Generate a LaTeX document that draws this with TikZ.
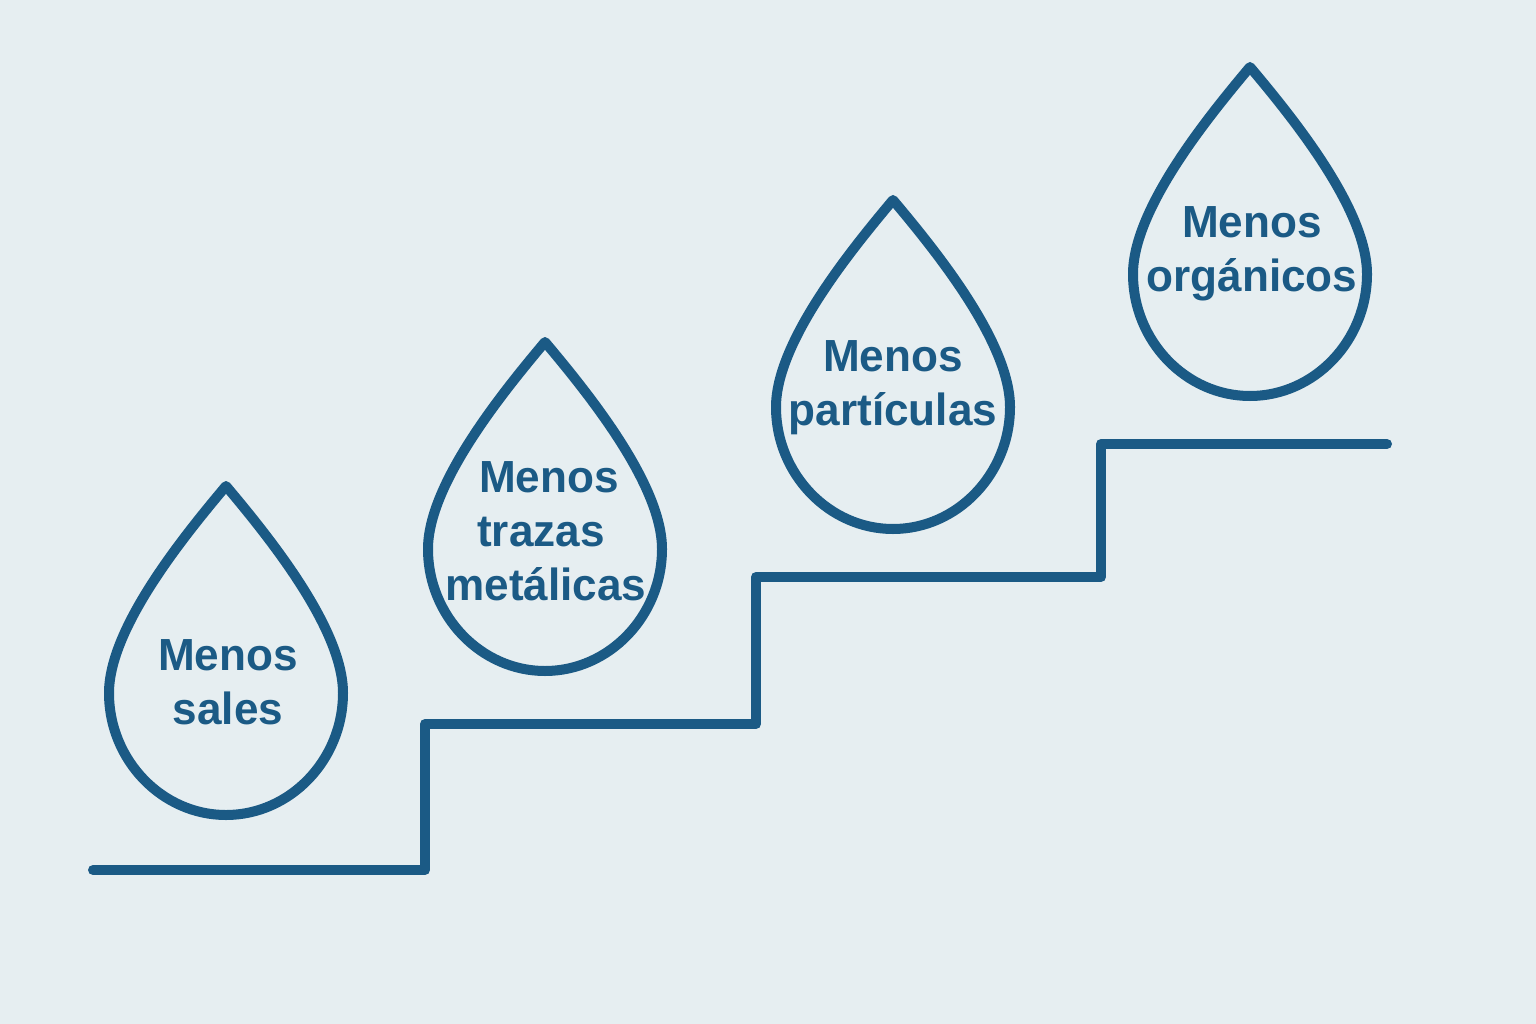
\documentclass[tikz,border=0pt]{standalone}
\usepackage{fontspec}
\setmainfont{Liberation Sans}
\newfontfamily\lblfont[FakeStretch=0.98]{Liberation Sans Bold}
\definecolor{bgc}{HTML}{E6EEF1}
\definecolor{blu}{HTML}{1B5A85}
\tikzset{
 x=1pt,y=-1pt,
 line/.style={draw=blu,line width=10pt,line join=round,line cap=round},
 lbl/.style={text=blu,font=\fontsize{45}{54}\lblfont,align=center,inner sep=0pt},
 pics/dropshape/.style={code={
  \draw[line] (0,0) .. controls (-42,50) and (-117,142) .. (-117,207)
   .. controls (-117,274) and (-64,329) .. (0,329)
   .. controls (64,329) and (117,274) .. (117,207)
   .. controls (117,142) and (42,50) .. (0,0) -- cycle;
 }}
}
\begin{document}
\begin{tikzpicture}
\path[fill=bgc] (0,0) rectangle (1536,1024);
\useasboundingbox (0,0) rectangle (1536,1024);
\pic at (226,486) {dropshape};
\pic at (545,342) {dropshape};
\pic at (893,200) {dropshape};
\pic at (1250,67) {dropshape};
\coordinate (s0) at (93,870);
\coordinate (s1) at (425,870);
\coordinate (s2) at (425,724);
\coordinate (s3) at (756,724);
\coordinate (s4) at (756,577);
\coordinate (s5) at (1101,577);
\coordinate (s6) at (1101,444);
\coordinate (s7) at (1387,444);
\draw[line] (s0)--(s1)--(s2)--(s3)--(s4)--(s5)--(s6)--(s7);
\node[lbl] (a) at (228,682) {Menos\\sales};
\node[lbl] (b) at (546,531) {\hspace*{6pt}Menos\\trazas\rule{10pt}{0pt}\\metálicas};
\node[lbl] (c) at (893,388) {Menos\\partículas};
\node[lbl] (d) at (1252,254) {Menos\\orgánicos};
\end{tikzpicture}
\end{document}
